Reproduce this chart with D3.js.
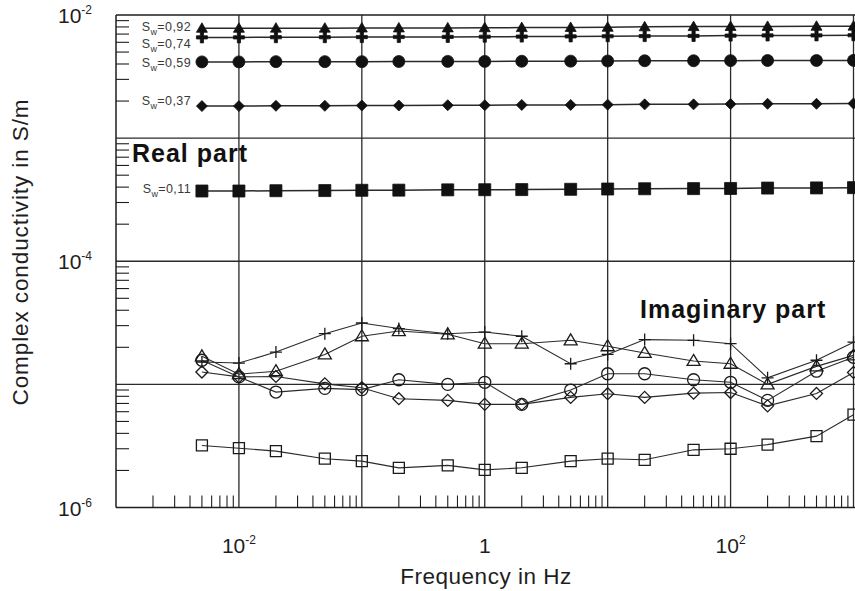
<!DOCTYPE html>
<html><head><meta charset="utf-8">
<script src="https://cdn.jsdelivr.net/npm/d3@7"></script>
<style>
html,body{margin:0;padding:0;background:#fff;}
svg{display:block;font-family:"Liberation Sans",Arial,Helvetica,sans-serif;}
</style></head>
<body><svg id="chart" width="855" height="591"></svg>
<script>
// ---------- data ----------
const frequencies = [0.005,0.01,0.02,0.05,0.1,0.2,0.5,1,2,5,10,20,50,100,200,500,1000];

const realLabels = ["0,92","0,74","0,59","0,37","0,11"];
const real092 = [7.80e-3,7.80e-3,7.82e-3,7.82e-3,7.84e-3,7.85e-3,7.86e-3,7.88e-3,7.90e-3,7.92e-3,7.95e-3,8.02e-3,8.05e-3,8.07e-3,8.08e-3,8.10e-3,8.12e-3];
const real074 = [6.58e-3,6.58e-3,6.60e-3,6.60e-3,6.62e-3,6.63e-3,6.64e-3,6.66e-3,6.68e-3,6.70e-3,6.72e-3,6.74e-3,6.76e-3,6.80e-3,6.82e-3,6.83e-3,6.85e-3];
const real059 = [4.16e-3,4.16e-3,4.18e-3,4.18e-3,4.18e-3,4.19e-3,4.20e-3,4.20e-3,4.21e-3,4.22e-3,4.23e-3,4.25e-3,4.25e-3,4.26e-3,4.27e-3,4.27e-3,4.28e-3];
const real037 = [1.82e-3,1.82e-3,1.83e-3,1.83e-3,1.84e-3,1.84e-3,1.85e-3,1.85e-3,1.86e-3,1.86e-3,1.87e-3,1.88e-3,1.88e-3,1.89e-3,1.90e-3,1.90e-3,1.91e-3];
const real011 = [3.72e-4,3.72e-4,3.74e-4,3.75e-4,3.77e-4,3.78e-4,3.80e-4,3.81e-4,3.82e-4,3.84e-4,3.86e-4,3.88e-4,3.89e-4,3.90e-4,3.93e-4,3.94e-4,3.96e-4];

const imagPlus     = [1.52e-5,1.49e-5,1.83e-5,2.58e-5,3.15e-5,2.84e-5,2.58e-5,2.66e-5,2.46e-5,1.47e-5,1.75e-5,2.31e-5,2.28e-5,2.14e-5,1.13e-5,1.57e-5,2.20e-5];
const imagTriangle = [1.69e-5,1.21e-5,1.28e-5,1.75e-5,2.46e-5,2.71e-5,2.55e-5,2.14e-5,2.14e-5,2.28e-5,2.04e-5,1.80e-5,1.55e-5,1.47e-5,1.00e-5,1.40e-5,1.72e-5];
const imagCircle   = [1.57e-5,1.15e-5,8.66e-6,9.28e-6,9.06e-6,1.09e-5,1.00e-5,1.04e-5,6.88e-6,8.99e-6,1.22e-5,1.22e-5,1.09e-5,1.04e-5,7.41e-6,1.28e-5,1.66e-5];
const imagDiamond  = [1.26e-5,1.15e-5,1.16e-5,1.01e-5,9.40e-6,7.65e-6,7.41e-6,6.88e-6,6.88e-6,7.84e-6,8.40e-6,7.84e-6,8.49e-6,8.58e-6,6.69e-6,8.44e-6,1.25e-5];
const imagSquare   = [3.19e-6,3.03e-6,2.87e-6,2.49e-6,2.38e-6,2.10e-6,2.20e-6,2.02e-6,2.10e-6,2.38e-6,2.49e-6,2.44e-6,2.94e-6,3.00e-6,3.24e-6,3.80e-6,5.67e-6];

const xTickValues = [1e-2, 1, 1e2];
const xTickLabels = [["10","-2"],["1",""],["10","2"]];
const yTickValues = [1e-2, 1e-4, 1e-6];
const yTickLabels = [["10","-2"],["10","-4"],["10","-6"]];

// ---------- setup ----------
const svg = d3.select("#chart");
const L = 116, R = 853.5, T = 15, B = 507.5;
const x = d3.scaleLog().domain([1e-3, 1e3]).range([L, R]);
const y = d3.scaleLog().domain([1e-6, 1e-2]).range([B, T]);
const ink = "#1e1e1e";

// grid lines (decades)
const xDecades = [1e-2,1e-1,1,1e1,1e2,1e3];
const yDecades = [1e-5,1e-4,1e-3];
svg.append("g").selectAll("line").data(xDecades).join("line")
  .attr("x1", d=>x(d)).attr("x2", d=>x(d)).attr("y1", T).attr("y2", B)
  .attr("stroke", "#2a2a2a").attr("stroke-width", 1.3);
svg.append("g").selectAll("line").data(yDecades).join("line")
  .attr("x1", L).attr("x2", 855).attr("y1", d=>y(d)).attr("y2", d=>y(d))
  .attr("stroke", "#2a2a2a").attr("stroke-width", 1.3);

// frame
svg.append("line").attr("x1", L).attr("x2", 855).attr("y1", T).attr("y2", T).attr("stroke", ink).attr("stroke-width", 1.5);
svg.append("line").attr("x1", L).attr("x2", 855).attr("y1", B).attr("y2", B).attr("stroke", ink).attr("stroke-width", 1.5);
svg.append("line").attr("x1", L).attr("x2", L).attr("y1", T).attr("y2", B).attr("stroke", ink).attr("stroke-width", 1.5);

// minor ticks
const xMinor = [], yMinor = [];
for (let e=-3; e<3; e++) for (let k=2;k<=9;k++) xMinor.push(k*Math.pow(10,e));
for (let e=-6; e<-2; e++) for (let k=2;k<=9;k++) yMinor.push(k*Math.pow(10,e));
svg.append("g").selectAll("line").data(xMinor).join("line")
  .attr("x1", d=>x(d)).attr("x2", d=>x(d)).attr("y1", B).attr("y2", B-12)
  .attr("stroke", ink).attr("stroke-width", 1.1);
svg.append("g").selectAll("line").data(yMinor).join("line")
  .attr("x1", L).attr("x2", L+13).attr("y1", d=>y(d)).attr("y2", d=>y(d))
  .attr("stroke", ink).attr("stroke-width", 1.1);

// tick labels
const xl = svg.append("g").selectAll("text").data(xTickValues).join("text")
  .attr("x", d=>x(d)).attr("y", 553).attr("text-anchor","middle")
  .attr("font-size", 21).attr("fill", ink);
xl.each(function(d,i){
  const t = d3.select(this);
  t.append("tspan").text(xTickLabels[i][0]);
  if (xTickLabels[i][1]) t.append("tspan").attr("dy",-9).attr("font-size",12).text(xTickLabels[i][1]);
});
const yl = svg.append("g").selectAll("text").data(yTickValues).join("text")
  .attr("x", 92).attr("y", d=>y(d)+8).attr("text-anchor","end")
  .attr("font-size", 21).attr("fill", ink);
yl.each(function(d,i){
  const t = d3.select(this);
  t.append("tspan").text(yTickLabels[i][0]);
  t.append("tspan").attr("dy",-9).attr("font-size",12).text(yTickLabels[i][1]);
});

// axis titles
svg.append("text").attr("x", 486).attr("y", 584).attr("text-anchor","middle")
  .attr("font-size", 22.5).attr("letter-spacing", 0.5).attr("fill", ink).text("Frequency in Hz");
svg.append("text").attr("transform","translate(28,252) rotate(-90)").attr("text-anchor","middle")
  .attr("font-size", 22.5).attr("letter-spacing", 0.9).attr("fill", ink).text("Complex conductivity in S/m");

// ---------- series ----------
const line = d3.line().x((d,i)=>x(frequencies[i])).y(d=>y(d));

const realSeries = [real092, real074, real059, real037, real011];
const realShapes = ["tri","plus","circle","diamond","square"];
const labelDy = [3, 11, 5, -1, 2];

const imagSeries = [imagPlus, imagTriangle, imagCircle, imagDiamond, imagSquare];
const imagShapes = ["plus","tri","circle","diamond","square"];

function shapePath(s, filled){
  if (s==="tri") return filled ? "M0,-5.5L5.5,4L-5.5,4Z" : "M0,-6.5L6.5,4.5L-6.5,4.5Z";
  if (s==="diamond") return filled ? "M0,-5.5L5.5,0L0,5.5L-5.5,0Z" : "M0,-6L6,0L0,6L-6,0Z";
  if (s==="square") return filled ? "M-6,-6H6V6H-6Z" : "M-5.5,-5.5H5.5V5.5H-5.5Z";
  if (s==="circle") return "M6,0A6,6 0 1,1 -6,0A6,6 0 1,1 6,0Z";
  if (s==="plus") return filled ? "M-1.6,-5.5H1.6V-1.6H5.5V1.6H1.6V5.5H-1.6V1.6H-5.5V-1.6H-1.6Z" : "M-6,0H6M0,-6V6";
}

realSeries.forEach((vals, si)=>{
  svg.append("path").datum(vals).attr("d", line)
    .attr("fill","none").attr("stroke","#2a2a2a").attr("stroke-width",1.5);
  svg.append("g").selectAll("path").data(vals).join("path")
    .attr("transform",(d,i)=>`translate(${x(frequencies[i])},${y(d)})`)
    .attr("d", shapePath(realShapes[si], true))
    .attr("fill","#111").attr("stroke","#111").attr("stroke-width",0.8);
  const t = svg.append("text").attr("x", 191).attr("y", y(vals[0])+labelDy[si])
    .attr("text-anchor","end").attr("font-size",12.5).attr("letter-spacing",0.4).attr("fill","#3a3a3a");
  t.append("tspan").text("S");
  t.append("tspan").attr("dy",4).attr("font-size",9).text("w");
  t.append("tspan").attr("dy",-4).text("=" + realLabels[si]);
});

imagSeries.forEach((vals, si)=>{
  svg.append("path").datum(vals).attr("d", line)
    .attr("fill","none").attr("stroke","#2a2a2a").attr("stroke-width",1.1);
  svg.append("g").selectAll("path").data(vals).join("path")
    .attr("transform",(d,i)=>`translate(${x(frequencies[i])},${y(d)})`)
    .attr("d", shapePath(imagShapes[si], false))
    .attr("fill","none").attr("stroke","#1a1a1a").attr("stroke-width",1.3);
});

// annotations
svg.append("text").attr("x", 132).attr("y", 162).attr("font-size", 25).attr("font-weight","bold")
  .attr("letter-spacing", 1).attr("fill","#111").text("Real part");
svg.append("text").attr("x", 640).attr("y", 318).attr("font-size", 25).attr("font-weight","bold")
  .attr("letter-spacing", 1).attr("fill","#111").text("Imaginary part");
</script></body></html>
